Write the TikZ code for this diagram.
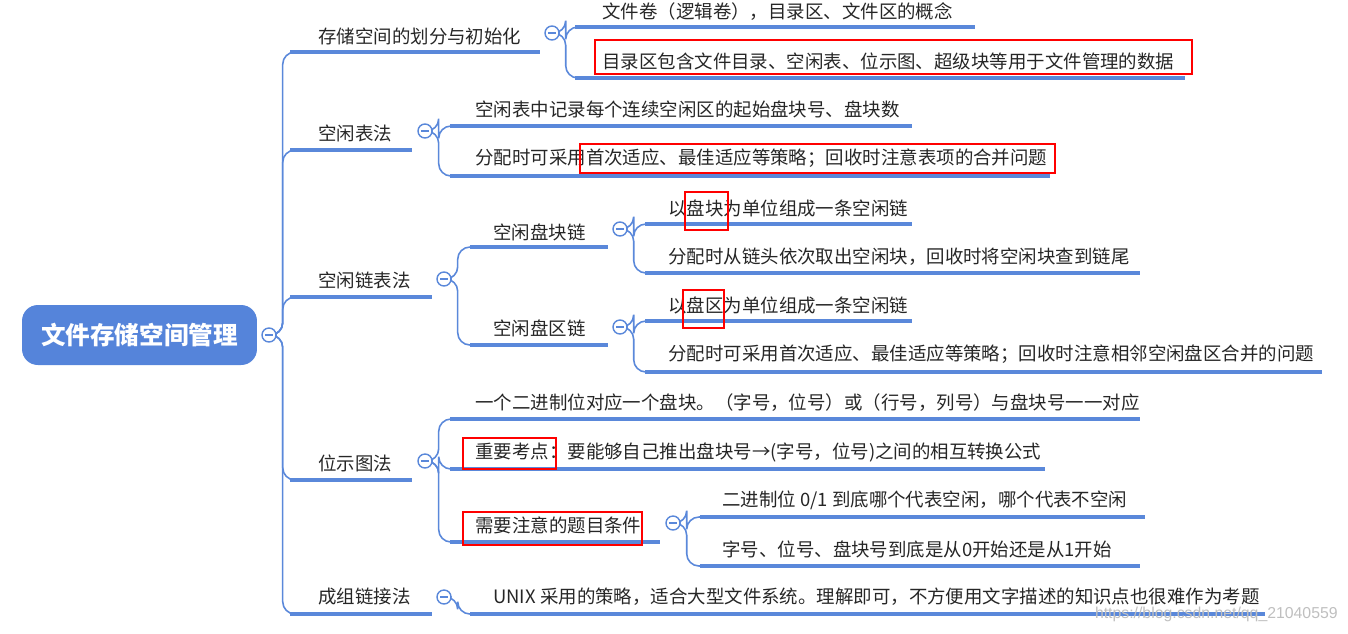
\documentclass[tikz,border=0pt]{standalone}
\usepackage{fontspec}
\usetikzlibrary{backgrounds}
\setmainfont{Noto Sans CJK SC}
\newfontfamily\wm{Liberation Sans}
\definecolor{mb}{HTML}{5A88DA}
\definecolor{rootc}{HTML}{5584DA}
\tikzset{
 tx/.style={anchor=west,inner sep=0pt,font=\fontsize{10.5pt}{12pt}\selectfont,text=black!85},
 ul/.style={draw=mb,line width=2.2pt},
 br/.style={draw=mb,line width=0.9pt,rounded corners=7pt},
 cb/.style={circle,draw=mb,fill=white,line width=0.8pt,minimum size=0.28cm,inner sep=0pt,
   path picture={\draw[mb,line width=0.8pt]([xshift=-2.2pt]path picture bounding box.center)--([xshift=2.2pt]path picture bounding box.center);}},
 rb/.style={draw=red,line width=1.6pt},
}
% name, textx, texty, x1, x2, yline, text
\newcommand\tp[7]{\node[tx] (#1) at (#2,#3) {#7};
 \coordinate (#1s) at (#4,#6); \coordinate (#1e) at (#5,#6); \draw[ul] (#1s)--(#1e);}
\newcommand\cir[3]{\node[cb] (#1) at (#2,#3) {};}
\newcommand\conn[2]{\begin{scope}[on background layer]\draw[br] (#1.east) -- ++(6,0) |- (#2s);\end{scope}}
\begin{document}
\begin{tikzpicture}[x=0.02cm,y=-0.02cm]
\useasboundingbox (0,0) rectangle (1348,633);
\node[fill=rootc,rounded corners=9pt,minimum width=4.7cm,minimum height=1.2cm,text=white,
 font=\fontsize{14pt}{16pt}\selectfont\bfseries] (root) at (139.5,335) {文件存储空间管理};
\cir{rc}{269}{335}
% level 1
\tp{a}{318}{36}{290}{540}{52}{存储空间的划分与初始化}
\tp{b}{318}{133}{290}{412}{150}{空闲表法}
\tp{c}{318}{280}{290}{432}{297}{空闲链表法}
\tp{d}{318}{463}{290}{412}{480}{位示图法}
\tp{e}{318}{597}{290}{432}{614}{成组链接法}
\conn{rc}{a}\conn{rc}{b}\conn{rc}{c}\conn{rc}{d}\conn{rc}{e}
% a
\cir{ac}{552}{33}
\tp{a1}{602}{12}{575}{975}{27}{文件卷（逻辑卷），目录区、文件区的概念}
\tp{a2}{602}{61}{575}{1185}{78}{目录区包含文件目录、空闲表、位示图、超级块等用于文件管理的数据}
\conn{ac}{a1}\conn{ac}{a2}
\draw[rb] (595,40) rectangle (1192,74);
% b
\cir{bc}{425}{131}
\tp{b1}{475}{109}{450}{912}{126}{空闲表中记录每个连续空闲区的起始盘块号、盘块数}
\tp{b2}{475}{158}{450}{1050}{176}{分配时可采用首次适应、最佳适应等策略；回收时注意表项的合并问题}
\conn{bc}{b1}\conn{bc}{b2}
\draw[rb] (580,144) rectangle (1055,173);
% c
\cir{cc}{444}{279}
\tp{c1}{493}{232}{470}{608}{247}{空闲盘块链}
\tp{c2}{493}{328}{470}{608}{345}{空闲盘区链}
\conn{cc}{c1}\conn{cc}{c2}
\cir{c1c}{620}{229}
\tp{c11}{668}{208}{645}{912}{224}{以盘块为单位组成一条空闲链}
\tp{c12}{668}{257}{645}{1140}{273}{分配时从链头依次取出空闲块，回收时将空闲块查到链尾}
\conn{c1c}{c11}\conn{c1c}{c12}
\draw[rb] (685,192) rectangle (728,230);
\cir{c2c}{620}{327}
\tp{c21}{668}{305}{645}{912}{321}{以盘区为单位组成一条空闲链}
\tp{c22}{668}{354}{645}{1322}{372}{分配时可采用首次适应、最佳适应等策略；回收时注意相邻空闲盘区合并的问题}
\conn{c2c}{c21}\conn{c2c}{c22}
\draw[rb] (683,290) rectangle (724,328);
% d
\cir{dc}{425}{461}
\tp{d1}{475}{403}{450}{1140}{419}{一个二进制位对应一个盘块。（字号，位号）或（行号，列号）与盘块号一一对应}
\tp{d2}{475}{452}{450}{1045}{469}{重要考点：要能够自己推出盘块号→(字号，位号)之间的相互转换公式}
\tp{d3}{475}{525}{450}{660}{542}{需要注意的题目条件}
\conn{dc}{d1}\conn{dc}{d2}\conn{dc}{d3}
\draw[rb] (463,438) rectangle (556,469);
\draw[rb] (463,512) rectangle (642,545);
\cir{d3c}{673}{523}
\tp{d31}{722}{500}{700}{1145}{517}{二进制位 0/1 到底哪个代表空闲，哪个代表不空闲}
\tp{d32}{722}{549}{700}{1140}{566}{字号、位号、盘块号到底是从0开始还是从1开始}
\conn{d3c}{d31}\conn{d3c}{d32}
% e
\cir{ec}{444}{597}
\tp{e1}{493}{597}{470}{1265}{614}{UNIX 采用的策略，适合大型文件系统。理解即可，不方便用文字描述的知识点也很难作为考题}
\begin{scope}[on background layer]\draw[br] (ec.east) -- ++(6,0) |- (e1s);\end{scope}
\node[anchor=east,inner sep=0pt,text=black!25,font=\wm\fontsize{9pt}{11pt}\selectfont] (wmk) at (1338,614) {https://blog.csdn.net/qq\_21040559};
\end{tikzpicture}
\end{document}
